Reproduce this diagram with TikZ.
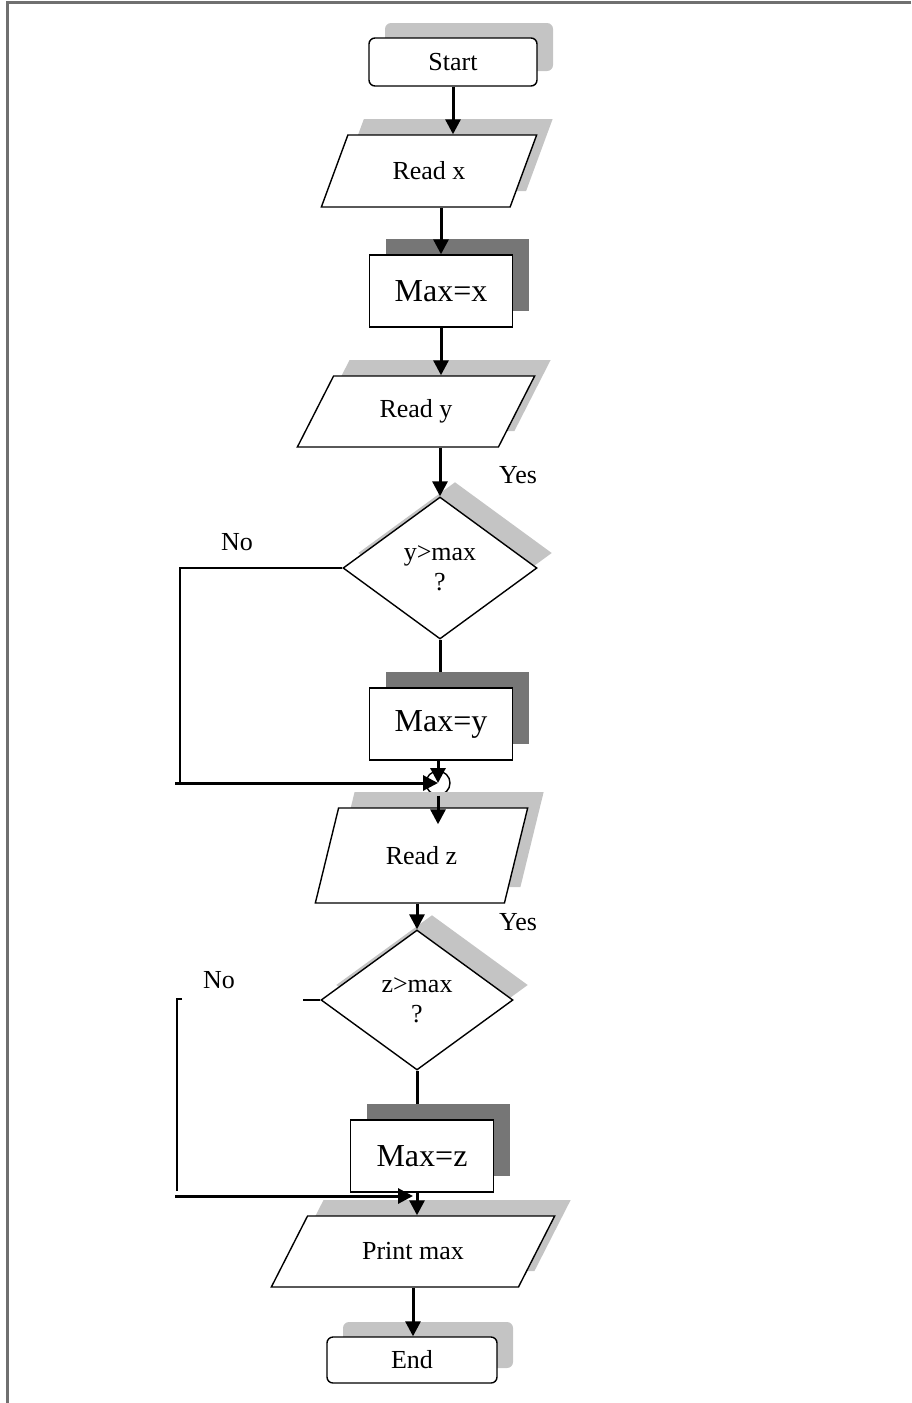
\documentclass[tikz,border=0pt]{standalone}
\usepackage{fontspec}
\setmainfont{Liberation Serif}
\usetikzlibrary{arrows.meta, positioning, shapes.geometric, shadows, backgrounds, calc}
\definecolor{fcShadeLight}{RGB}{196,196,196}
\definecolor{fcShadeDark}{RGB}{118,118,118}
\definecolor{fcFrame}{RGB}{112,112,112}

\begin{document}
\begin{tikzpicture}[
  x=0.5pt, y=0.5pt,
  font=\fontsize{13}{15}\selectfont,
  terminal/.style={
    rectangle, rounded corners=3pt, draw, line width=0.7pt, fill=white,
    minimum width=84pt, minimum height=24pt, inner sep=0pt,
    general shadow={shadow xshift=8pt, shadow yshift=7.5pt, fill=fcShadeLight}
  },
  io/.style={
    trapezium, trapezium stretches=true, draw, line width=0.7pt, fill=white,
    inner sep=0pt,
    general shadow={shadow xshift=8pt, shadow yshift=8pt, fill=fcShadeLight}
  },
  process/.style={
    rectangle, draw, line width=0.7pt, fill=white, font=\fontsize{16}{18}\selectfont,
    minimum width=71.5pt, minimum height=36pt, inner sep=0pt,
    general shadow={shadow xshift=8pt, shadow yshift=8pt, fill=fcShadeDark}
  },
  decision/.style={
    diamond, draw, line width=0.7pt, fill=white, align=center, inner sep=0pt,
    general shadow={shadow xshift=7.5pt, shadow yshift=7.5pt, fill=fcShadeLight}
  },
  merge/.style={circle, draw, line width=0.7pt, fill=white, minimum size=12pt, inner sep=0pt},
  flow/.style={-{Triangle[length=7.5pt, width=7.5pt]}, line width=1.5pt},
  noline/.style={line width=0.7pt},
  lbl/.style={inner sep=0pt},
  frame/.style={draw=fcFrame, line width=1.1pt},
]

\useasboundingbox (0,0) rectangle (911,-1403);
\draw[frame] (911,-2.5) -- (7.5,-2.5) -- (7.5,-1403);

% --- Flow chart, top to bottom ---------------------------------------------
\node[terminal] (start) at (453,-62) {Start};
\node[io, trapezium left angle=56.9, trapezium right angle=123.1,
      minimum width=108pt, minimum height=36pt] (readx) at (429,-171) {Read x};
\node[process] (maxx) at (441,-291) {Max=x};
\node[io, trapezium left angle=55.9, trapezium right angle=124.1,
      minimum width=119pt, minimum height=35.5pt] (ready) at (416,-411.5) {Read y};
\node[decision, minimum width=97pt, minimum height=71pt] (d1) at (440,-568) {y>max\\?};
\node[process] (maxy) at (441,-724) {Max=y};
\node[merge] (merge1) at (438,-783) {};
\node[io, trapezium left angle=61.3, trapezium right angle=118.7,
      minimum width=106.5pt, minimum height=47.5pt] (readz) at (421.5,-855.5) {Read z};
\node[decision, minimum width=96pt, minimum height=70pt] (d2) at (417,-1000) {z>max\\?};
\node[process] (maxz) at (422,-1156) {Max=z};
\node[io, trapezium left angle=45, trapezium right angle=135,
      minimum width=142pt, minimum height=35.5pt] (printmax) at (413,-1251.5) {Print max};
\node[terminal, minimum width=85pt, minimum height=23pt] (end) at (412,-1360) {End};

% --- Branch labels ----------------------------------------------------------
\node[lbl] (yes1) at (518,-475) {Yes};
\node[lbl] (no1)  at (237,-542) {No};
\node[lbl] (yes2) at (518,-922) {Yes};
\node[lbl] (no2)  at (219,-980) {No};

% --- Arrows -----------------------------------------------------------------
\foreach \a/\b in {start/readx, maxx/ready, printmax/end}
  \draw[flow] (\a.south) -- (\a.south |- \b.north);
\foreach \a/\b in {readx/maxx, ready/d1, readz/d2}
  \draw[flow] (\a.south -| \b.north) -- (\b.north);
\draw[flow] (maxy.south -| merge1) -- (merge1.center);
\draw[flow] (merge1.south) -- ($(merge1.south |- readz.north)+(0,-17)$);
\draw[flow] (d2.south |- maxz.south) -- (d2.south |- printmax.north);

\begin{scope}[on background layer]
  \draw[line width=1.5pt] (d1.south) -- (d1.south |- maxy.north);
  \draw[line width=1.5pt] (d2.south) -- (d2.south |- maxz.north);
\end{scope}

% --- "No" paths ---------------------------------------------------------------
\coordinate (no1foot) at (180,-783);
\coordinate (no1tail) at (175,-783);
\draw[noline] (d1.west) -| (no1foot);
\draw[flow] (no1tail) -- (merge1.center);

\coordinate (no2stub) at (303,-1000);
\coordinate (no2tick) at (182,-999);
\coordinate (no2top)  at (177,-999);
\coordinate (no2foot) at (177,-1191);
\coordinate (no2tail) at (175,-1196);
\coordinate (join2)   at (413,-1196);
\draw[noline] (d2.west) -- (no2stub);
\draw[noline] (no2tick) -- (no2top) -- (no2foot);
\draw[flow] (no2tail) -- (join2);

\end{tikzpicture}
\end{document}
